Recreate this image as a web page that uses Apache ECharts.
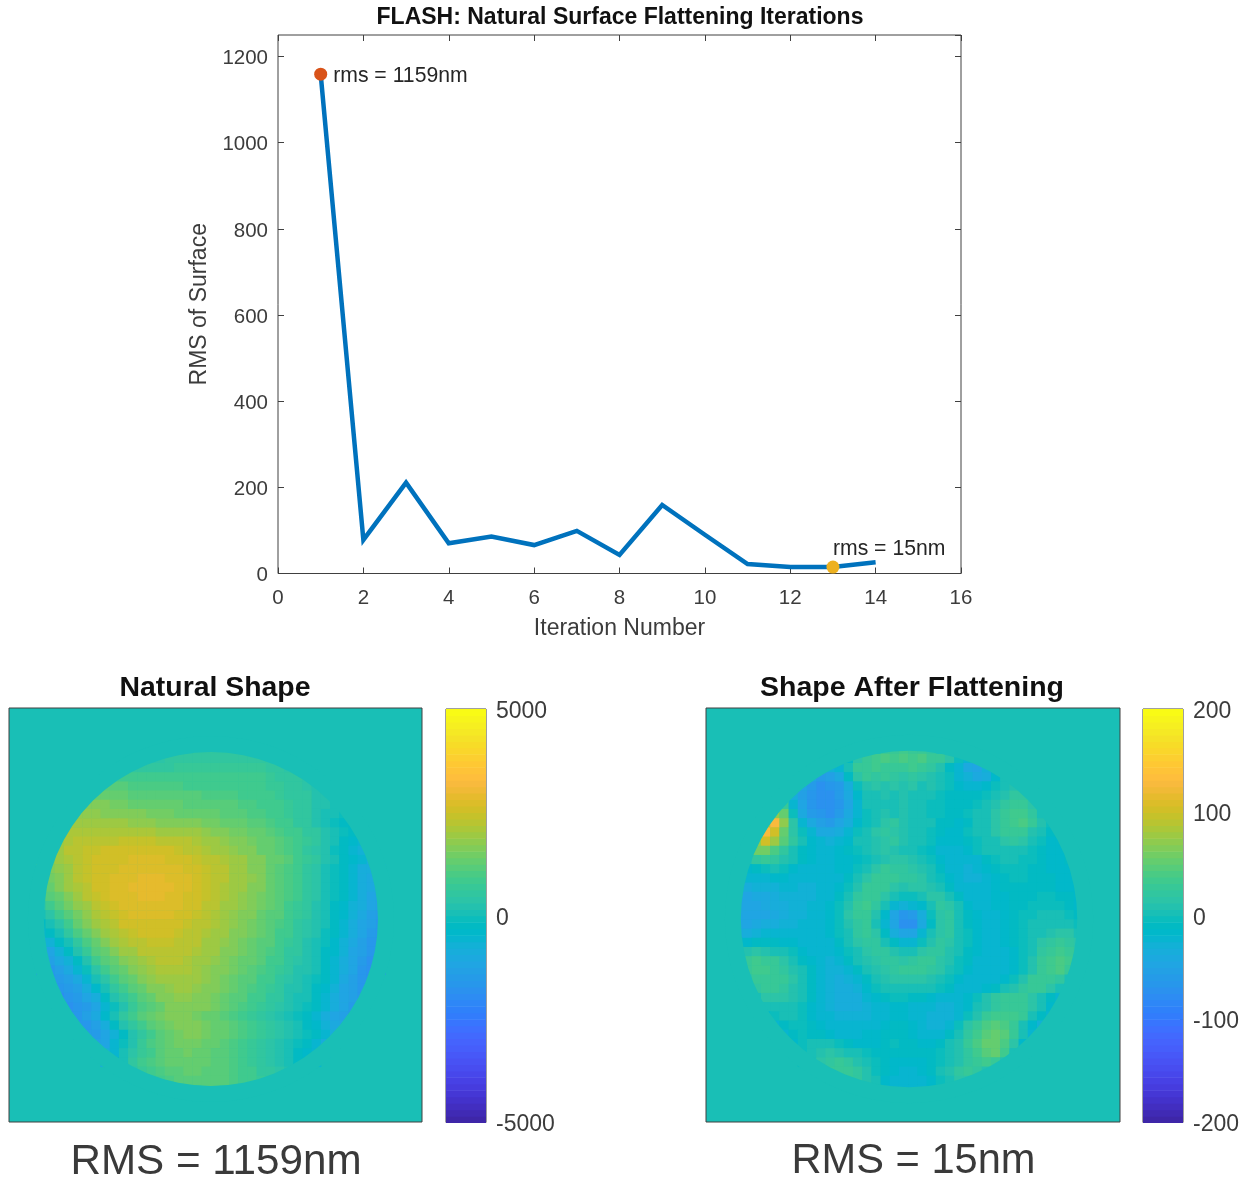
<!DOCTYPE html>
<html><head><meta charset="utf-8">
<style>html,body{margin:0;padding:0;background:#fff}#c{width:1251px;height:1179px;filter:blur(0.5px)}</style>
<script src="https://cdn.jsdelivr.net/npm/echarts@6/dist/echarts.min.js"></script>
</head><body><div id="c"></div>
<script>
// Iteration curve
const iterations = [1,2,3,4,5,6,7,8,9,10,11,12,13,14];
const rmsValues = [1159,78,211,70,86,66,99,43,159,90,22,15,15,26];
const firstPoint = [1,1159];
const bestPoint = [13,15];
const firstLabel = 'rms = 1159nm';
const bestLabel = 'rms = 15nm';
// Parula colormap, 64 levels
const parula = [[.2422,.1504,.6603],[.2504,.165,.7076],[.2578,.1818,.7511],[.2647,.1978,.7952],[.2706,.2147,.8364],[.2751,.2342,.871],[.2783,.2559,.8991],[.2803,.2782,.9221],[.2813,.3006,.9414],[.281,.3228,.9579],[.2795,.3447,.9717],[.276,.3667,.9829],[.2699,.3892,.9906],[.2602,.4123,.9952],[.244,.4358,.9988],[.2206,.4603,.9973],[.1963,.4847,.9892],[.1834,.5074,.9798],[.1786,.5289,.9682],[.1764,.5499,.952],[.1687,.5703,.9359],[.154,.5902,.9218],[.146,.6091,.9079],[.138,.6276,.8973],[.1248,.6459,.8883],[.1113,.6635,.8763],[.0952,.6798,.8598],[.0689,.6948,.8394],[.0297,.7082,.8163],[.0036,.7203,.7917],[.0067,.7312,.766],[.0433,.7411,.7394],[.0964,.75,.712],[.1408,.7584,.6842],[.1717,.767,.6554],[.1938,.7758,.6251],[.2161,.7843,.5923],[.247,.7918,.5567],[.2906,.7973,.5188],[.3406,.8008,.4789],[.3909,.8029,.4354],[.4456,.8024,.3909],[.5044,.7993,.348],[.5616,.7942,.3045],[.6174,.7876,.2612],[.672,.7793,.2227],[.7242,.7698,.191],[.7738,.7598,.1646],[.8203,.7498,.1535],[.8634,.7406,.1596],[.9035,.733,.1774],[.9393,.7288,.21],[.9728,.7298,.2394],[.9956,.7434,.2371],[.997,.7659,.2199],[.9952,.7861,.199],[.9892,.8137,.1881],[.9786,.8374,.1704],[.9676,.862,.1549],[.961,.8871,.1536],[.9597,.9135,.1423],[.9628,.9373,.1265],[.9691,.9606,.1064],[.9769,.9839,.0805]].map(c=>'rgb('+c.map(v=>Math.round(v*255)).join(',')+')');
// Natural shape, hundreds of nm, one list per image row (only cells on the aperture)
const naturalShape = [
[4,5,5,5,5,6],
[4,4,5,5,5,6,6,6,6,6,6,6,5,5],
[6,6,6,6,6,7,7,7,7,7,7,7,7,7,7,6,5,4],
[9,9,9,8,8,8,8,8,8,8,8,8,8,8,8,8,8,7,6,6,5,4],
[11,11,11,10,10,10,10,10,10,9,9,9,9,9,9,9,8,8,7,7,6,5,4,3],
[14,14,13,13,12,12,12,11,11,11,11,11,10,10,10,10,9,9,8,8,7,6,6,5,3,2],
[17,16,16,15,15,14,14,14,13,13,13,12,12,12,11,11,11,10,10,9,8,8,7,6,5,3,2,0],
[18,18,18,17,17,17,16,16,15,15,15,14,14,14,13,13,12,12,11,10,10,9,8,7,6,5,3,1,0,-1],
[20,20,20,20,19,19,19,18,18,18,17,17,17,16,16,15,15,14,13,13,12,11,10,9,8,6,5,3,1,-1,-2,-3],
[20,21,21,21,21,21,21,21,21,21,21,20,20,20,19,19,18,17,16,15,15,14,13,12,10,9,8,6,5,3,1,-1,-3,-5],
[20,21,22,23,23,23,23,24,24,24,24,23,23,23,22,21,20,19,18,17,16,15,14,13,12,10,9,7,5,3,1,-2,-4,-6],
[18,20,22,23,24,24,25,25,26,26,26,26,25,25,24,23,22,21,20,19,18,17,16,14,13,11,10,8,6,4,2,-1,-3,-5,-7,-8],
[17,19,21,23,24,25,25,26,26,27,27,27,27,26,26,25,24,23,22,21,20,19,17,16,14,13,11,9,7,5,3,0,-2,-4,-6,-8],
[14,16,18,20,22,24,25,26,26,27,28,28,28,28,27,27,26,25,24,23,22,20,19,17,16,14,12,10,8,6,4,1,-1,-3,-6,-8,-9,-10],
[13,15,17,19,22,24,25,26,27,28,28,29,29,29,28,28,27,26,24,23,22,20,19,18,16,14,12,10,8,6,4,1,-1,-3,-6,-8,-10,-11],
[11,14,16,19,21,23,25,26,27,28,29,29,29,29,29,28,27,26,24,23,21,20,19,17,16,14,12,10,8,6,4,1,-1,-3,-6,-8,-10,-12],
[8,11,14,17,20,22,24,25,27,28,28,29,29,29,28,27,26,25,24,23,21,20,18,17,15,13,11,10,8,6,4,1,-1,-3,-6,-9,-11,-13],
[4,8,11,15,18,20,22,24,26,27,28,28,28,28,28,27,26,25,23,22,20,19,18,16,15,13,11,9,7,5,3,1,-2,-4,-7,-9,-12,-14],
[1,4,8,12,15,18,21,23,24,26,27,27,27,27,27,26,25,24,23,21,20,18,17,16,14,12,11,9,7,5,3,0,-2,-4,-7,-10,-13,-15],
[-2,0,4,9,13,16,19,21,23,25,26,26,26,26,26,25,24,23,22,21,19,18,17,15,14,12,10,8,6,4,2,0,-3,-5,-8,-11,-14,-16],
[-6,-3,1,5,10,13,16,19,21,23,24,25,25,25,25,24,23,22,21,20,19,17,16,15,13,11,9,8,6,4,2,-1,-3,-6,-9,-12,-15,-17],
[-10,-7,-3,1,6,10,14,17,19,21,22,23,24,24,24,23,23,22,20,19,18,17,15,14,12,11,9,7,5,3,1,-1,-4,-7,-10,-13,-16,-18],
[-13,-11,-7,-3,2,7,11,14,17,19,20,22,23,23,23,23,22,21,20,19,17,16,15,13,12,10,8,6,5,3,1,-2,-4,-7,-11,-14,-17,-19],
[-15,-13,-10,-7,-2,3,8,11,14,16,18,20,21,22,22,22,21,20,19,18,17,15,14,13,11,9,8,6,4,2,0,-2,-5,-8,-11,-15,-18,-20],
[-17,-16,-13,-10,-6,-1,4,8,11,14,16,18,20,21,21,21,21,20,18,17,16,15,13,12,10,9,7,5,3,2,0,-3,-6,-9,-12,-16,-18,-20],
[-17,-15,-13,-10,-5,0,4,8,11,14,16,18,19,20,20,20,19,18,17,15,14,12,11,9,8,6,4,3,1,-1,-3,-6,-10,-13,-16,-19],
[-18,-17,-15,-13,-9,-4,1,5,8,11,14,16,17,18,19,19,18,17,16,15,13,12,10,9,7,5,3,2,0,-2,-4,-7,-11,-14,-17,-19],
[-19,-17,-15,-12,-8,-2,2,6,9,12,14,16,17,18,18,17,16,15,14,12,11,9,8,6,5,3,1,0,-3,-5,-8,-11,-14,-17],
[-19,-18,-17,-15,-11,-6,-1,3,7,10,12,14,16,17,17,17,16,15,13,12,10,9,7,6,4,3,1,-1,-3,-5,-8,-12,-15,-17],
[-19,-17,-14,-10,-4,1,5,8,11,13,15,16,17,16,15,14,13,12,10,9,7,5,4,2,1,-1,-3,-6,-9,-12,-14,-16],
[-17,-16,-13,-9,-3,2,5,9,11,13,15,16,16,16,15,14,13,11,10,8,7,5,4,2,0,-2,-4,-7,-10,-12],
[-15,-15,-15,-12,-7,-2,2,6,9,11,13,15,16,16,15,14,13,12,10,9,7,6,4,3,1,-1,-3,-5,-8,-10],
[-13,-14,-11,-6,-1,3,7,10,12,13,15,15,15,14,13,12,10,9,7,6,4,3,1,-1,-3,-6,-8,-9],
[-13,-9,-5,0,4,7,9,11,13,14,15,14,13,12,11,10,9,7,6,4,3,1,-2,-4,-6,-7],
[-8,-3,1,5,8,10,12,13,13,14,13,13,12,11,10,8,7,6,4,3,0,-2,-4,-5],
[2,4,7,8,10,11,12,13,13,12,12,11,10,9,8,6,5,4,2,0],
[6,8,9,10,11,11,12,12,11,11,10,9,8,7,5,4],
[9,10,10,11,11,10,9,9]
];
// Shape after flattening, nm, one list per image row
const flattenedShape = [
[25,30,35,30,30,20],
[-10,15,30,35,40,35,40,35,40,30,25,15,-5,-20],
[-30,-20,5,25,30,35,30,25,30,35,25,20,10,-10,-25,-40,-45,-30],
[-50,-60,-55,-40,-10,15,25,20,25,20,15,20,15,10,5,-5,-20,-30,-40,-35,-15,0],
[-45,-60,-70,-65,-60,-35,-5,10,15,10,15,10,15,5,10,0,-5,-15,-20,-20,-15,-5,5,10],
[-35,-55,-65,-70,-70,-60,-40,-15,5,5,10,5,10,5,5,0,-5,-10,-10,-10,-10,-5,0,10,20,20],
[30,-20,-50,-65,-70,-70,-65,-45,-20,0,5,0,5,10,5,0,-5,-5,-10,-10,-10,-5,0,10,20,30,25,15],
[70,55,-5,-40,-60,-65,-70,-60,-40,-20,-5,5,10,5,10,5,0,-5,-5,-10,-10,-5,0,5,15,25,35,35,20,5],
[90,125,70,15,-20,-40,-55,-60,-50,-35,-15,-5,5,15,20,10,5,0,0,-10,-10,-15,-10,0,5,15,25,35,40,25,10,-5],
[85,125,100,50,15,-5,-25,-40,-40,-35,-20,-5,5,15,20,15,10,5,0,-5,-10,-15,-15,-5,0,5,15,25,30,25,10,0,-10,-15],
[70,100,75,45,20,0,-15,-25,-30,-25,-15,0,5,10,15,20,10,5,0,-5,-15,-15,-15,-10,-5,0,5,15,20,15,5,-5,-15,-15],
[45,60,60,40,20,5,-10,-15,-20,-20,-15,-10,-5,5,10,15,10,5,0,-5,-10,-20,-20,-20,-15,-5,0,5,5,0,0,-5,-10,-15,-15,-10],
[10,20,25,20,10,0,-10,-15,-20,-20,-15,-15,-10,-5,5,10,15,15,10,5,-5,-15,-20,-25,-25,-20,-10,-5,0,0,-5,-5,-10,-15,-15,-10],
[-20,-15,-10,-5,0,-5,-15,-20,-20,-25,-20,-15,-15,-5,5,15,25,20,20,15,10,0,-10,-20,-25,-30,-25,-15,-10,-5,-5,-5,-10,-10,-15,-15,-15,-10],
[-30,-25,-25,-20,-15,-15,-20,-25,-25,-25,-25,-20,-10,0,15,25,25,25,20,20,15,5,-5,-15,-25,-30,-30,-20,-15,-10,-5,-5,-10,-10,-10,-15,-15,-10],
[-40,-35,-30,-30,-30,-25,-25,-30,-30,-25,-25,-15,-5,10,25,30,25,15,10,15,15,10,5,-10,-20,-25,-25,-20,-15,-10,-10,-10,-10,-10,-10,-15,-15,-15],
[-45,-45,-40,-40,-35,-30,-30,-30,-30,-25,-20,-10,5,20,30,30,15,0,-5,-5,5,15,15,5,-10,-20,-25,-20,-15,-15,-10,-10,-10,-5,-5,-10,-10,-15],
[-50,-45,-45,-40,-35,-35,-30,-30,-25,-25,-15,-5,10,25,35,20,0,-20,-30,-25,-15,5,20,15,0,-15,-20,-20,-15,-15,-10,-10,-5,-5,-5,-5,-10,-15],
[-50,-45,-45,-45,-40,-35,-30,-30,-25,-20,-15,-5,15,25,30,10,-15,-45,-65,-60,-35,-5,15,20,5,-10,-15,-20,-20,-15,-10,-5,-5,0,0,0,-5,-10],
[-50,-45,-40,-35,-35,-30,-30,-25,-25,-20,-15,-5,10,20,25,5,-20,-50,-75,-70,-40,-10,15,20,5,-10,-15,-20,-20,-15,-10,-5,0,5,5,5,0,-5],
[-40,-35,-30,-25,-25,-25,-25,-20,-25,-20,-15,-5,5,20,25,15,-10,-35,-50,-45,-25,0,15,20,5,-5,-15,-20,-20,-15,-10,-5,0,5,10,15,15,5],
[-25,-15,-10,-10,-10,-15,-15,-20,-25,-25,-20,-10,0,15,20,20,5,-10,-20,-20,-5,10,20,15,5,-5,-15,-20,-20,-15,-10,-5,5,15,20,25,20,15],
[-5,10,15,10,5,0,-5,-15,-20,-25,-25,-15,-5,5,15,20,20,10,5,5,15,20,20,10,0,-10,-15,-20,-20,-20,-15,-5,5,20,30,35,30,20],
[10,25,35,30,25,15,5,-10,-15,-25,-30,-25,-10,0,10,15,20,20,15,20,25,25,15,10,-5,-10,-20,-25,-25,-20,-15,-5,10,25,35,40,35,20],
[10,25,35,35,30,20,10,0,-10,-20,-30,-30,-20,-10,0,10,15,20,25,25,25,20,15,5,-5,-15,-20,-25,-25,-25,-15,-5,10,25,35,40,30,15],
[15,25,30,30,25,15,5,-10,-20,-30,-35,-30,-20,-10,5,10,15,15,15,15,10,5,-5,-15,-20,-25,-25,-20,-15,-5,10,25,30,30,20,5],
[10,20,25,25,20,10,0,-10,-20,-30,-35,-35,-30,-15,-5,0,5,5,5,5,0,-5,-10,-20,-20,-20,-15,-10,0,10,20,25,25,15,0,-5],
[5,15,15,15,10,0,-10,-20,-30,-35,-35,-35,-25,-15,-10,-5,-5,-10,-10,-15,-20,-25,-25,-15,-5,10,20,25,25,25,15,0,-10,-20],
[0,0,5,5,0,-5,-15,-25,-30,-35,-35,-35,-30,-25,-20,-15,-15,-20,-25,-25,-30,-30,-25,-15,0,10,20,30,30,25,15,0,-15,-25],
[-15,-5,0,0,-5,-15,-20,-25,-30,-30,-30,-30,-25,-20,-15,-15,-20,-25,-30,-30,-30,-20,-5,10,25,35,35,35,25,5,-10,-25],
[-20,-10,-5,-5,-10,-15,-20,-25,-25,-25,-25,-20,-15,-10,-10,-15,-25,-30,-30,-20,-5,15,30,40,45,40,25,5,-15,-30],
[-30,-20,-10,-5,-10,-10,-15,-20,-20,-20,-15,-15,-10,-10,-10,-15,-20,-25,-20,-10,5,20,35,45,50,45,25,0,-25,-35],
[-25,-15,-5,5,5,0,-5,-10,-15,-15,-15,-10,-5,-10,-10,-15,-15,-10,0,10,25,40,50,55,40,15,-15,-30],
[-15,-5,5,10,15,10,5,0,-5,-10,-10,-10,-10,-10,-10,-10,-5,0,10,20,35,45,50,35,5,-20],
[-5,5,15,20,25,20,10,0,-5,-10,-15,-15,-15,-15,-10,-5,0,10,20,30,35,30,10,-10],
[15,25,30,25,20,10,-5,-10,-15,-20,-20,-15,-10,0,10,20,25,20,10,-5],
[20,25,20,10,0,-15,-20,-25,-25,-20,-15,-5,5,15,15,5],
[-10,-20,-25,-25,-25,-20,-15,-5]
];
const gridCells = 45;
const firstCol = 3, firstRow = 4, spanCells = 38;
const apertureNatural = [22.0,22.93,18.2];
const apertureFlat = [22.07,22.93,18.28];
const naturalRange = 5000, flatRange = 200;
const FONT = '"Liberation Sans", Arial, sans-serif';
const TXT = '#3c3c3c', EDGE = '#404040';
const ZERO = parula[32];
const cats = Array.from({length:gridCells},(_,i)=>i);

function cells(rows,scale){
  const out=[];
  rows.forEach((row,r)=>{
    const start=firstCol+Math.floor((spanCells-row.length)/2);
    row.forEach((v,k)=>out.push([start+k,firstRow+r,v*scale]));
  });
  return out;
}
function pieces(range){
  const step=2*range/64;
  return parula.map((c,i)=>i===63?{gte:-range+i*step,lte:range,color:c}:{gte:-range+i*step,lt:-range+(i+1)*step,color:c});
}
function ringItem(params,api){
  const p=api.coord([api.value(0),api.value(1)]);
  const r=api.size([api.value(2),0])[0];
  return {type:'ring',shape:{cx:p[0],cy:p[1],r:r+16,r0:r},style:{fill:ZERO}};
}
function barItem(range){
  const step=2*range/64;
  return function(params,api){
    const i=api.value(0);
    const a=api.coord([0,-range+(i+1)*step]);
    const b=api.coord([1,-range+i*step]);
    return {type:'rect',shape:{x:a[0],y:a[1],width:b[0]-a[0],height:b[1]-a[1]+0.6},style:{fill:parula[i]}};
  };
}
const levels=parula.map((c,i)=>[i]);
const noLine={show:false,onZero:false};
const hiddenVal=(g,max,extra)=>Object.assign({type:'value',gridIndex:g,min:0,max:max,show:false},extra||{});
const hiddenCat=(g,extra)=>Object.assign({type:'category',gridIndex:g,data:cats,show:false},extra||{});
const cbarAxis=(g,range,iv)=>({type:'value',gridIndex:g,position:'right',min:-range,max:range,interval:iv,
  axisLine:noLine,splitLine:{show:false},axisTick:{inside:true,length:3,lineStyle:{color:EDGE}},
  axisLabel:{margin:10,verticalAlign:'top',lineHeight:5,color:TXT,fontFamily:FONT,fontSize:23,formatter:v=>String(v)}});
const edgeGrid=(l,t,w,h,bg)=>({left:l,top:t,width:w,height:h,show:true,borderColor:EDGE,borderWidth:1,backgroundColor:bg||'transparent'});
const mainTick={inside:true,length:6,lineStyle:{color:EDGE}};
const ttl=(text,x,y,size,weight,color)=>({text:text,left:x,top:y,textAlign:'center',padding:0,textStyle:{fontFamily:FONT,fontSize:size,fontWeight:weight,color:color}});

const option={
  animation:false,
  backgroundColor:'#fff',
  title:[
    ttl('FLASH: Natural Surface Flattening Iterations',620,6.5,23,'bold','#111'),
    ttl('Natural Shape',215,674,28.4,'bold','#111'),
    ttl('Shape After Flattening',912,674,28.5,'bold','#111'),
    ttl('RMS = 1159nm',216,1141,42.2,'normal','#3a3a3a'),
    ttl('RMS = 15nm',913.5,1141,41.6,'normal','#3a3a3a')
  ],
  grid:[
    edgeGrid(278,35,683,538.5),
    edgeGrid(9,708,413,414,ZERO),
    edgeGrid(446,709,40,413.5),
    edgeGrid(706,708,414,414,ZERO),
    edgeGrid(1143,709,40,413.5)
  ],
  xAxis:[
    {type:'value',gridIndex:0,position:'bottom',min:0,max:16,interval:2,name:'Iteration Number',nameLocation:'middle',nameGap:44,
     nameTextStyle:{fontFamily:FONT,fontSize:23,color:TXT},axisLine:noLine,splitLine:{show:false},axisTick:mainTick,
     axisLabel:{margin:14,color:TXT,fontFamily:FONT,fontSize:20.5}},
    {type:'value',gridIndex:0,position:'top',min:0,max:16,interval:2,axisLine:noLine,splitLine:{show:false},axisTick:mainTick,axisLabel:{show:false}},
    hiddenCat(1),hiddenVal(1,gridCells),hiddenVal(2,1),
    hiddenCat(3),hiddenVal(3,gridCells),hiddenVal(4,1)
  ],
  yAxis:[
    {type:'value',gridIndex:0,position:'left',min:0,max:1250,interval:200,name:'RMS of Surface',nameLocation:'middle',nameRotate:90,nameGap:62,
     nameTextStyle:{fontFamily:FONT,fontSize:23,color:TXT},axisLine:noLine,splitLine:{show:false},
     axisTick:mainTick,axisLabel:{margin:10,verticalAlign:'top',lineHeight:4,color:TXT,fontFamily:FONT,fontSize:20.5,showMaxLabel:false,formatter:v=>v%200===0?String(v):''}},
    {type:'value',gridIndex:0,position:'right',min:0,max:1250,interval:200,axisLine:noLine,splitLine:{show:false},axisTick:mainTick,axisLabel:{show:false}},
    hiddenCat(1,{inverse:true}),hiddenVal(1,gridCells,{inverse:true}),cbarAxis(2,naturalRange,5000),
    hiddenCat(3,{inverse:true}),hiddenVal(3,gridCells,{inverse:true}),cbarAxis(4,flatRange,100)
  ],
  visualMap:[
    {type:'piecewise',show:false,seriesIndex:3,dimension:2,pieces:pieces(naturalRange)},
    {type:'piecewise',show:false,seriesIndex:6,dimension:2,pieces:pieces(flatRange)}
  ],
  series:[
    {type:'line',xAxisIndex:0,yAxisIndex:0,data:iterations.map((x,i)=>[x,rmsValues[i]]),symbol:'none',lineStyle:{color:'#0072BD',width:4.5,join:'miter'},z:3},
    {type:'scatter',xAxisIndex:0,yAxisIndex:0,data:[firstPoint],symbolSize:13,itemStyle:{color:'#D95319',opacity:1},z:4,
      label:{show:true,position:'right',distance:6,offset:[0,1.5],formatter:firstLabel,color:'#262626',fontFamily:FONT,fontSize:21.2}},
    {type:'scatter',xAxisIndex:0,yAxisIndex:0,data:[bestPoint],symbolSize:13,itemStyle:{color:'#EDB120',opacity:1},z:4,
      label:{show:true,position:[6.5,-22],formatter:bestLabel,color:'#262626',fontFamily:FONT,fontSize:21.2}},
    {type:'heatmap',xAxisIndex:2,yAxisIndex:2,data:cells(naturalShape,100),progressive:0,z:2},
    {type:'custom',xAxisIndex:3,yAxisIndex:3,data:[apertureNatural],renderItem:ringItem,z:3,silent:true},
    {type:'custom',xAxisIndex:4,yAxisIndex:4,data:levels,renderItem:barItem(naturalRange),z:2,silent:true,encode:{x:-1,y:-1}},
    {type:'heatmap',xAxisIndex:5,yAxisIndex:5,data:cells(flattenedShape,1),progressive:0,z:2},
    {type:'custom',xAxisIndex:6,yAxisIndex:6,data:[apertureFlat],renderItem:ringItem,z:3,silent:true},
    {type:'custom',xAxisIndex:7,yAxisIndex:7,data:levels,renderItem:barItem(flatRange),z:2,silent:true,encode:{x:-1,y:-1}}
  ]
};
const chart=echarts.init(document.getElementById('c'),null,{renderer:'canvas'});
chart.setOption(option);
</script></body></html>
